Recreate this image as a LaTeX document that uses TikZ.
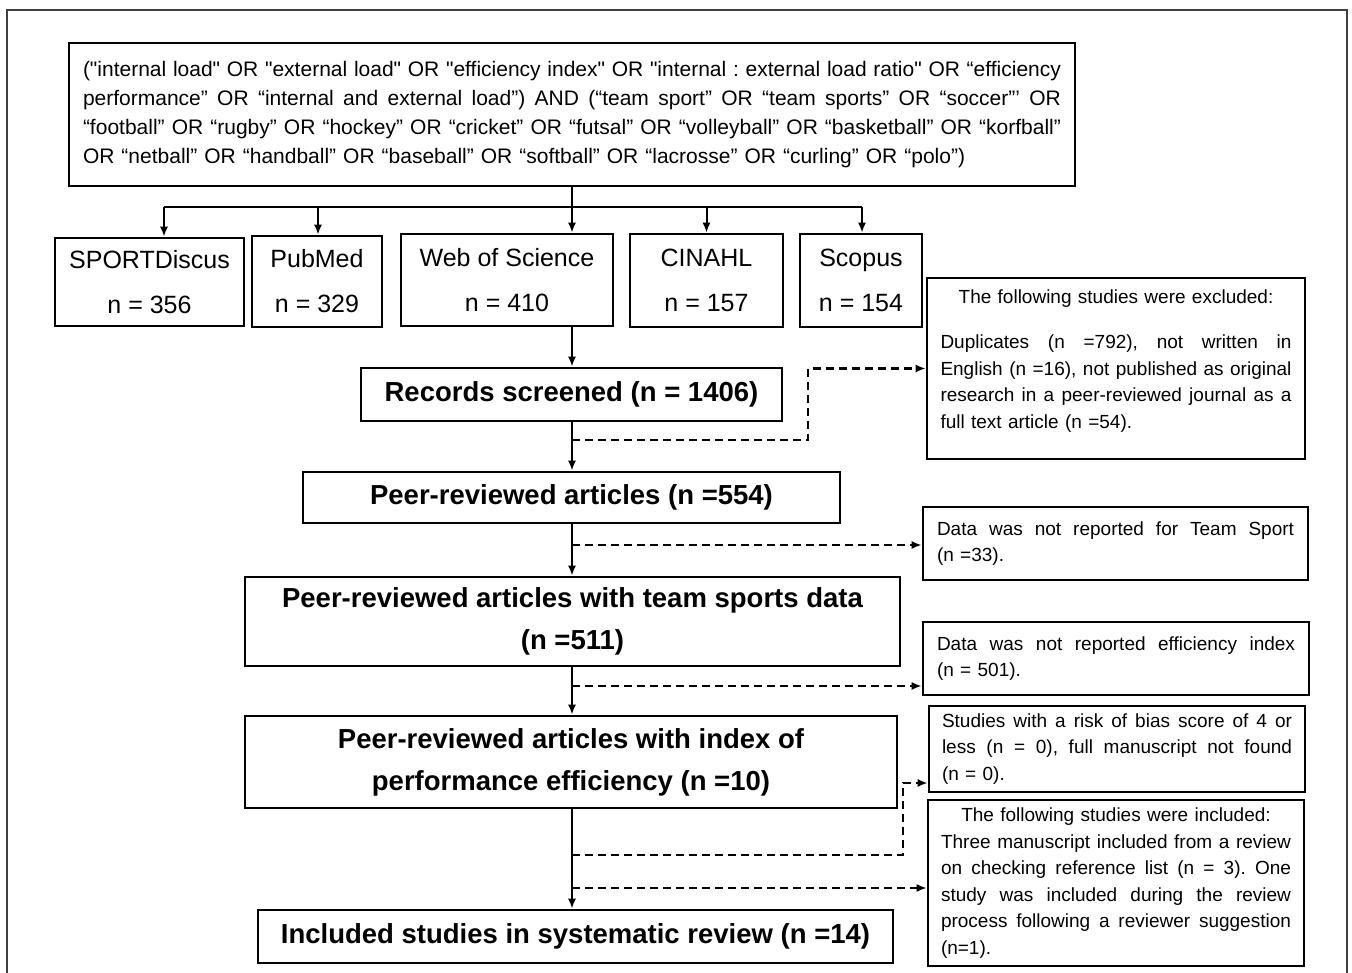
\documentclass[tikz,border=0pt]{standalone}
\usepackage{fontspec}
\setmainfont{Liberation Sans}[Ligatures=TeXOff]
\usetikzlibrary{arrows.meta,calc}
\newcommand{\jline}[2]{{\frenchspacing\spaceskip=0pt\xspaceskip=0pt\makebox[#1][s]{#2}}}
\newcommand{\tailgap}[1]{\par\nointerlineskip\vspace{#1}\hbox{}}
\begin{document}
\begin{tikzpicture}[x=1pt,y=-1pt,
  box/.style={draw, line width=2.6pt, rectangle, inner sep=0pt},
  dbbox/.style={box, align=center, font=\fontsize{25}{45}\selectfont},
  mainbox/.style={box, align=center, font=\fontsize{27.5}{42}\selectfont\bfseries},
  sidebox/.style={box, align=left, font=\fontsize{19}{26.5}\selectfont},
  arr/.style={line width=2pt, -{Latex[length=10pt,width=8pt]}},
  plain/.style={line width=2pt},
  dsh/.style={line width=2.2pt, dash pattern=on 8pt off 5pt, -{Latex[length=10pt,width=8pt]}},
  frameline/.style={draw=black!75, line width=1.3pt}]
\useasboundingbox (0,0) rectangle (1352,973);
\draw[frameline] (7,973) -- (7,10) -- (1347,10) -- (1347,973);

% search string
\node[box, minimum width=1006pt, minimum height=143pt, text width=978pt, align=left,
      font=\fontsize{21}{29}\selectfont] (top) at (572,114.5)
 {\jline{978pt}{("internal load" OR "external load" OR "efficiency index" OR "internal : external load ratio" OR “efficiency}\\
  \jline{978pt}{performance” OR “internal and external load”) AND (“team sport” OR “team sports” OR “soccer”’ OR}\\
  \jline{978pt}{“football” OR “rugby” OR “hockey” OR “cricket” OR “futsal” OR “volleyball” OR “basketball” OR “korfball”}\\
  OR “netball” OR “handball” OR “baseball” OR “softball” OR “lacrosse” OR “curling” OR “polo”)};

% databases
\node[dbbox, minimum width=189pt, minimum height=88pt] (sd)  at (149.5,282) {SPORTDiscus\\n = 356};
\node[dbbox, minimum width=130pt, minimum height=91pt] (pm)  at (317,281.5) {PubMed\\n = 329};
\node[dbbox, minimum width=212pt, minimum height=92pt] (wos) at (507,280) {Web of Science\\n = 410};
\node[dbbox, minimum width=153pt, minimum height=93pt] (cin) at (706.5,280.5) {CINAHL\\n = 157};
\node[dbbox, minimum width=122pt, minimum height=93pt] (sco) at (861,280.5) {Scopus\\n = 154};

% main flow
\node[mainbox, minimum width=421pt, minimum height=53pt] (rec)   at (571.5,394.5) {Records screened (n = 1406)};
\node[mainbox, minimum width=537pt, minimum height=51pt] (peer)  at (571.5,497.5) {Peer-reviewed articles (n =554)};
\node[mainbox, minimum width=655pt, minimum height=89pt] (team)  at (572.5,621.5) {Peer-reviewed articles with team sports data\\(n =511)};
\node[mainbox, minimum width=652pt, minimum height=92pt] (idx)   at (571,762) {Peer-reviewed articles with index of\\performance efficiency (n =10)};
\node[mainbox, minimum width=635pt, minimum height=53pt] (final) at (575.5,936.5) {Included studies in systematic review (n =14)};

% side boxes
\node[sidebox, minimum width=378pt, minimum height=181pt, text width=351pt] (excl) at (1116,368.5)
 {\makebox[351pt][c]{The following studies were excluded:}\\[18.5pt]
  \jline{351pt}{Duplicates (n =792), not written in}\\
  \jline{351pt}{English (n =16), not published as original}\\
  \jline{351pt}{research in a peer-reviewed journal as a}\\
  full text article (n =54).\tailgap{15pt}};
\node[sidebox, minimum width=385pt, minimum height=73pt, text width=357pt] (tsx) at (1115.5,543.5)
 {\jline{357pt}{Data was not reported for Team Sport}\\(n =33).};
\node[sidebox, minimum width=386pt, minimum height=73pt, text width=358pt] (efx) at (1116,658.5)
 {\jline{358pt}{Data was not reported efficiency index}\\(n = 501).};
\node[sidebox, minimum width=376pt, minimum height=86pt, text width=350pt] (bias) at (1117,749)
 {\jline{350pt}{Studies with a risk of bias score of 4 or}\\
  \jline{350pt}{less (n = 0), full manuscript not found}\\
  (n = 0).};
\node[sidebox, minimum width=376pt, minimum height=166pt, text width=350pt] (incl) at (1116,883)
 {\makebox[350pt][c]{The following studies were included:}\\
  \jline{350pt}{Three manuscript included from a review}\\
  \jline{350pt}{on checking reference list (n = 3). One}\\
  \jline{350pt}{study was included during the review}\\
  \jline{350pt}{process following a reviewer suggestion}\\
  (n=1).};

% branching to databases
\coordinate (b1) at (164,207);
\coordinate (b2) at (318,207);
\coordinate (b3) at (572,207);
\coordinate (b4) at (706.5,207);
\coordinate (b5) at (862,207);
\draw[plain] (top.south -| b3) -- (b3);
\draw[plain] (b1) -- (b5);
\draw[arr] (b1) -- (b1 |- sd.north);
\draw[arr] (b2) -- (b2 |- pm.north);
\draw[arr] (b3) -- (b3 |- wos.north);
\draw[arr] (b4) -- (b4 |- cin.north);
\draw[arr] (b5) -- (b5 |- sco.north);

% spine
\coordinate (sp) at (572,0);
\draw[arr] (wos.south -| sp) -- (rec.north -| sp);
\draw[arr] (rec.south -| sp) -- (peer.north -| sp);
\draw[arr] (peer.south -| sp) -- (team.north -| sp);
\draw[arr] (team.south -| sp) -- (idx.north -| sp);
\draw[arr] (idx.south -| sp) -- (final.north -| sp);

% dashed exclusions
\coordinate (j1) at (572,440);
\coordinate (k1) at (808,440);
\draw[dsh] (j1) -- (k1) |- (excl.west);
\coordinate (j2) at (572,545);
\draw[dsh] (j2) -- (j2 -| tsx.west);
\coordinate (j3) at (572,686);
\draw[dsh] (j3) -- (j3 -| efx.west);
\coordinate (j4) at (572,855);
\coordinate (k4) at (903,783);
\draw[dsh] (j4) -- (j4 -| k4) -- (k4) -- (k4 -| bias.west);
\coordinate (j5) at (572,888);
\draw[dsh] (j5) -- (j5 -| incl.west);
\end{tikzpicture}
\end{document}
